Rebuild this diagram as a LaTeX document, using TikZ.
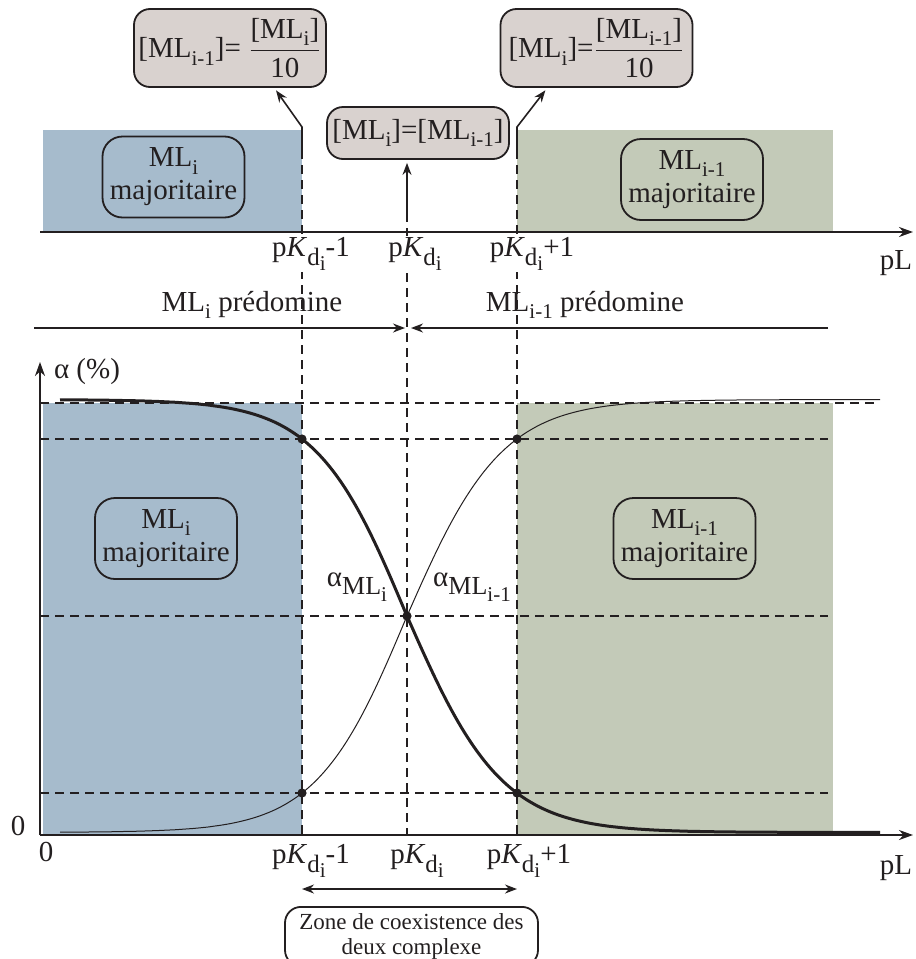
\documentclass[tikz,border=0pt]{standalone}
\usepackage{amsmath}
\usepackage{fontspec}
\setmainfont{Liberation Serif}
\usetikzlibrary{arrows.meta}
\definecolor{ink}{RGB}{35,31,32}
\definecolor{lblue}{RGB}{166,187,204}
\definecolor{lgreen}{RGB}{195,202,184}
\definecolor{lgray}{RGB}{217,210,207}
\pgfdeclarelayer{edgelayer}
\pgfdeclarelayer{nodelayer}
\pgfsetlayers{edgelayer,nodelayer,main}
\tikzstyle{axis}=[-{Stealth[length=7pt,width=5pt]}, draw=ink, line width=1.000]
\tikzstyle{arrow}=[-{Stealth[length=6pt,width=4.5pt]}, draw=ink, line width=0.800]
\tikzstyle{twoway}=[{Stealth[length=6pt,width=4.5pt]}-{Stealth[length=6pt,width=4.5pt]}, draw=ink, line width=0.800]
\tikzstyle{guide}=[dash pattern=on 4.5pt off 3pt, draw=ink, line width=0.600]
\tikzstyle{heavy}=[draw=ink, line width=1.500]
\tikzstyle{light}=[draw=ink, line width=0.500]
\tikzstyle{species}=[rectangle, rounded corners=10pt, draw=ink, line width=0.900, align=center, minimum width=71pt, minimum height=40.5pt, inner sep=1pt]
\tikzstyle{ratio}=[rectangle, rounded corners=8pt, fill=lgray, draw=ink, line width=0.900, minimum width=96pt, minimum height=39pt, inner sep=2pt]
\tikzstyle{tick}=[fill=white, inner sep=1pt]
\tikzstyle{point}=[circle, fill=ink, inner sep=0pt, minimum size=4.6pt]
\newcommand{\ind}[1]{\raisebox{-0.25em}{\fontsize{10.5}{10.5}\selectfont #1}}
\newcommand{\pKd}{p\textit{K}\raisebox{-0.3em}{\fontsize{12.5}{12.5}\selectfont d\raisebox{-0.2em}{\fontsize{10.5}{10.5}\selectfont i}}}
\newcommand{\aML}[1]{α\raisebox{-0.3em}{\fontsize{13}{13}\selectfont ML\ind{#1}}}

\begin{document}
\begin{tikzpicture}[x=0.5pt, y=-0.5pt, font=\fontsize{14.5}{16.5}\selectfont, color=ink,
    declare function={share(\t)=(1-(\t>407)+(\t>407)*10^(-abs(\t-407)/(105+5*(\t>407))))/(1+10^(-abs(\t-407)/(105+5*(\t>407))));}]
    \useasboundingbox (0,0) rectangle (916,959);
    % points
    \coordinate (A0) at (40,232);
    \coordinate (A1) at (913,232);
    \coordinate (B0) at (40,835);
    \coordinate (B1) at (913,835);
    \coordinate (Y1) at (40,362);
    \coordinate (v1a) at (302,150);
    \coordinate (v1b) at (302,835);
    \coordinate (v1c) at (302,127);
    \coordinate (v0a) at (407,213);
    \coordinate (v0b) at (407,835);
    \coordinate (v2a) at (517,150);
    \coordinate (v2b) at (517,835);
    \coordinate (v2c) at (517,127);
    \coordinate (P0) at (34,328);
    \coordinate (P1) at (405,328);
    \coordinate (P2) at (828,328);
    \coordinate (P3) at (411,328);
    \coordinate (D1) at (302,889);
    \coordinate (D2) at (517,889);
    \begin{pgfonlayer}{nodelayer}
        \node [style=ratio] (fl) at (230,48) {[ML\ind{i-1}]= $\dfrac{\text{[ML\ind{i}]}}{\text{10}}$};
        \node [style=ratio] (fr) at (596.5,48) {[ML\ind{i}]=$\dfrac{\text{[ML\ind{i-1}]}}{\text{10}}$};
        \node [style=ratio, minimum width=91pt, minimum height=26pt] (fm) at (418,133) {[ML\ind{i}]=[ML\ind{i-1}]};
        \node [style=species] (st1) at (173.5,177) {ML\ind{i}\\majoritaire};
        \node [style=species] (st2) at (692,179.5) {ML\ind{i-1}\\majoritaire};
        \node [style=species] (sb1) at (166,538.5) {ML\ind{i}\\majoritaire};
        \node [style=species] (sb2) at (684.5,538.5) {ML\ind{i-1}\\majoritaire};
        \node [style=tick] (kt1) at (311,254) {\pKd-1};
        \node [style=tick] (kt0) at (415,254) {\pKd};
        \node [style=tick] (kt2) at (532,254) {\pKd+1};
        \node (pLt) at (896,263) {pL};
        \node (pr1) at (252,305) {ML\ind{i} prédomine};
        \node (pr2) at (585,305) {ML\ind{i-1} prédomine};
        \node (alpha) at (87,372) {α (\%)};
        \node (a1) at (357,587) {\aML{i}};
        \node (a2) at (472,587) {\aML{i-1}};
        \node [style=point] (p1) at (302,439) {};
        \node [style=point] (p2) at (517,439) {};
        \node [style=point] (p0) at (407,616) {};
        \node [style=point] (p3) at (302,793) {};
        \node [style=point] (p4) at (517,793) {};
        \node (z1) at (18,826) {0};
        \node (z2) at (46,852) {0};
        \node [style=tick] (kb1) at (311,861) {\pKd-1};
        \node [style=tick] (kb0) at (417,861) {\pKd};
        \node [style=tick] (kb2) at (529,861) {\pKd+1};
        \node (pLb) at (896,868) {pL};
        \node [rectangle, rounded corners=8pt, draw=ink, line width=0.900, align=center, minimum width=126.5pt, minimum height=29.5pt, anchor=north, font=\fontsize{11.5}{12.5}\selectfont] (zone) at (411.5,906) {Zone de coexistence des\\deux complexe};
    \end{pgfonlayer}
    \begin{pgfonlayer}{edgelayer}
        \fill [lblue] (43,130) rectangle (302,232);
        \fill [lgreen] (517,130) rectangle (833,232);
        \fill [lblue] (43,403) rectangle (302,835);
        \fill [lgreen] (517,403) rectangle (833,835);
        \draw [style=guide] (40,403) -- (880,403);
        \draw [style=guide] (40,439) -- (828,439);
        \draw [style=guide] (40,616) -- (828,616);
        \draw [style=guide] (40,793) -- (828,793);
        \draw [style=guide] (v1a) -- (v1b);
        \draw [style=guide] (v0a) -- (v0b);
        \draw [style=guide] (v2a) -- (v2b);
        \draw [style=heavy] plot [domain=60:880, samples=150, smooth] (\x, {832.4-432.8*share(\x)});
        \draw [style=light] plot [domain=60:880, samples=150, smooth] (\x, {399.6+432.8*share(\x)});
        \draw [style=axis] (A0) -- (A1);
        \draw [style=axis] (B0) -- (B1);
        \draw [style=axis] (B0) -- (Y1);
        \draw [style=arrow, shorten >=1.5pt] (v1a) -- (v1c) -- (fl.-42);
        \draw [style=arrow, shorten >=1.5pt] (v2a) -- (v2c) -- (fr.-141);
        \draw [style=arrow, shorten >=1.5pt] (v0a) -- (v0a |- fm.south);
        \draw [style=arrow] (P0) -- (P1);
        \draw [style=arrow] (P2) -- (P3);
        \draw [style=twoway] (D1) -- (D2);
    \end{pgfonlayer}
\end{tikzpicture}
\end{document}
